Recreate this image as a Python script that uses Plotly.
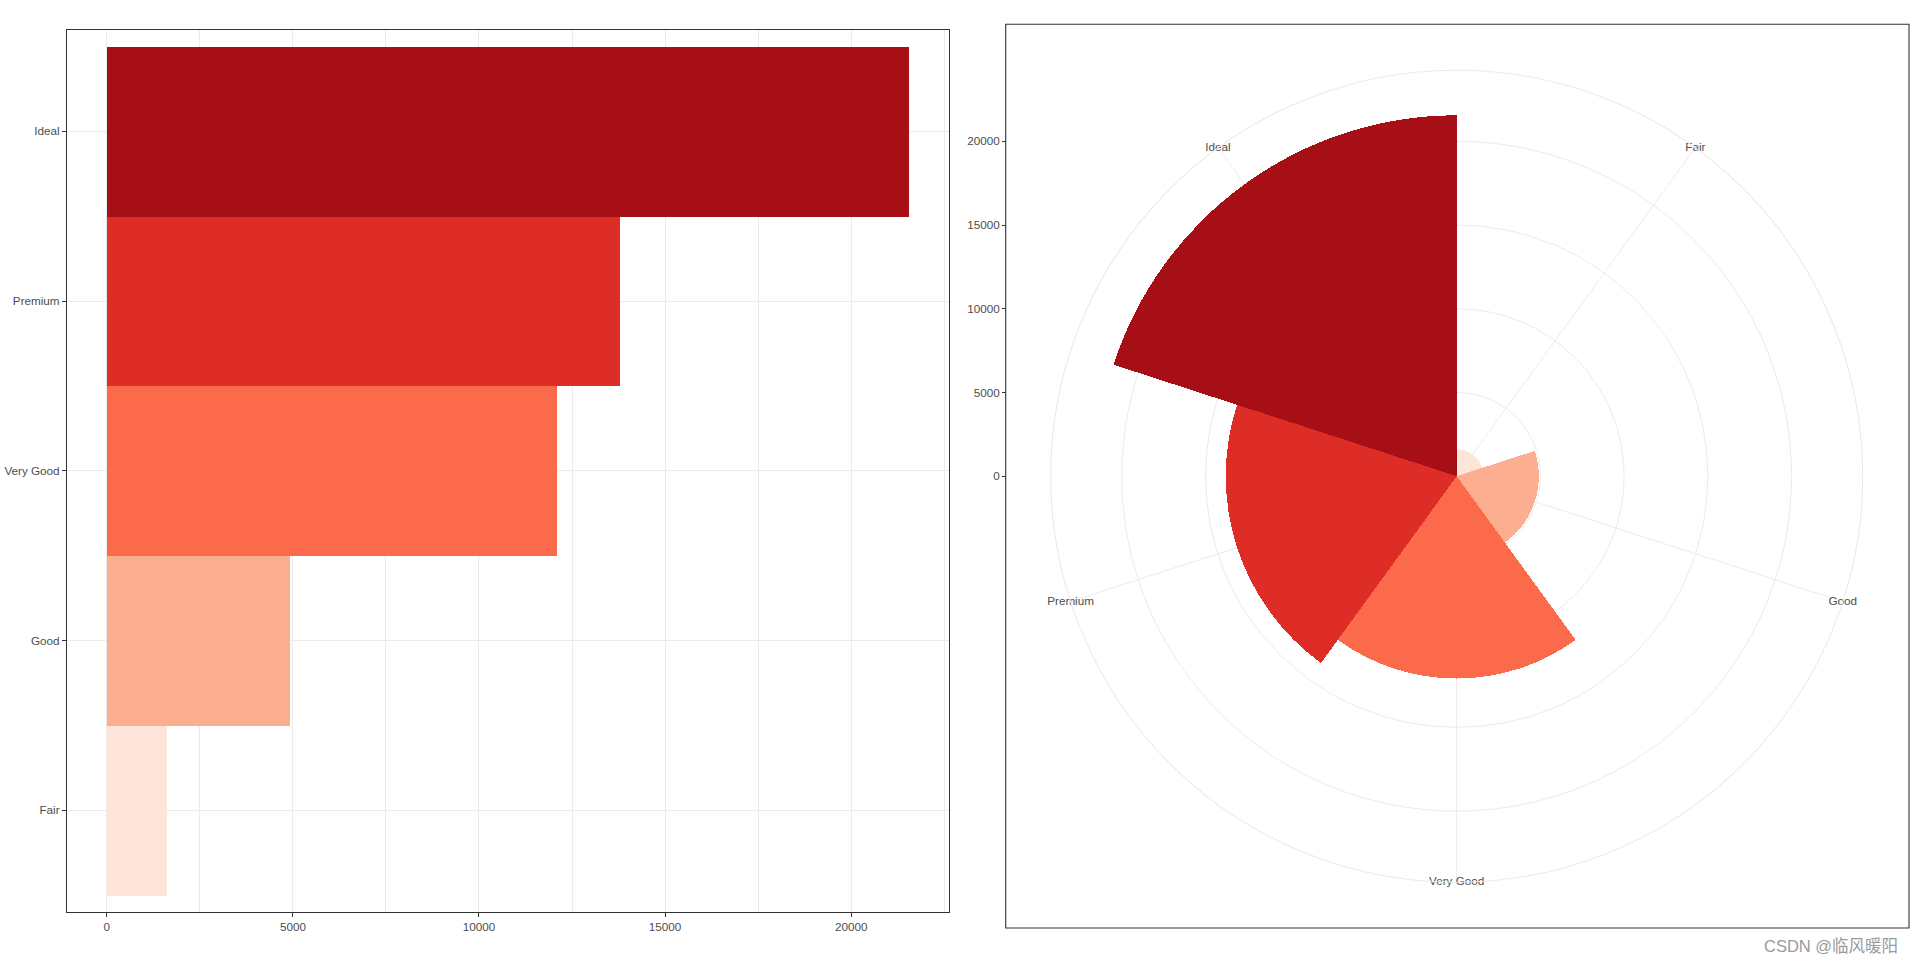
import plotly.graph_objects as go

# ---- data ----
cuts = ["Fair", "Good", "Very Good", "Premium", "Ideal"]
counts = [1610, 4906, 12082, 13791, 21551]
colors = ["#FEE5D9", "#FCAE91", "#FB6A4A", "#DE2D26", "#A50F15"]
x_ticks = [0, 5000, 10000, 15000, 20000]
r_ticks = [0, 5000, 10000, 15000, 20000]

W, H = 1915, 964
def fx(px): return px / W
def fy(py): return 1 - py / H

FONT = "Liberation Sans, Arial, sans-serif"
TXT = "#4d4d4d"
GRID = "#ebebeb"
DARK = "#333333"

rmax = max(counts)
r_outer = rmax * 0.45 / 0.4          # ggplot coord_polar outer ring
x_pad = 0.05 * rmax

fig = go.Figure()

# left: horizontal bars
fig.add_trace(go.Bar(
    x=counts, y=cuts, orientation="h",
    marker=dict(color=colors, line=dict(width=0)),
    width=1.0, showlegend=False, hoverinfo="x+y",
    xaxis="x", yaxis="y"))

# right: polar bars
fig.add_trace(go.Barpolar(
    r=counts, theta=cuts,
    marker=dict(color=colors, line=dict(width=0)),
    showlegend=False, subplot="polar"))

# theta labels placed on the outer ring
fig.add_trace(go.Scatterpolar(
    r=[r_outer] * len(cuts), theta=cuts, mode="text", text=cuts,
    textposition="middle center",
    textfont=dict(family=FONT, size=11.7, color=TXT),
    cliponaxis=False, showlegend=False, hoverinfo="skip", subplot="polar"))

# invisible trace carrying the radial axis labels at the panel's left
fig.add_trace(go.Scatter(
    x=[0] * len(counts), y=counts, mode="markers",
    marker=dict(opacity=0), showlegend=False, hoverinfo="skip",
    xaxis="x2", yaxis="y2"))

# geometry of panels (pixels)
L_x0, L_x1, L_y0, L_y1 = 66.7, 949.0, 29.5, 912.0
R_x0, R_x1, R_y0, R_y1 = 1005.7, 1909.0, 24.3, 928.0
cx, cy, rad = 1456.7, 476.2, 406.0

fig.update_layout(
    width=W, height=H,
    margin=dict(l=0, r=0, t=0, b=0),
    paper_bgcolor="white", plot_bgcolor="white",
    bargap=0,
    font=dict(family=FONT, size=11.7, color=TXT),
    xaxis=dict(
        domain=[fx(L_x0), fx(L_x1)],
        range=[-x_pad, rmax + x_pad],
        tickvals=x_ticks, tickformat="d", ticks="outside", ticklen=3.7, tickwidth=1.1,
        tickcolor=DARK, showgrid=True, gridcolor=GRID, gridwidth=1.1,
        minor=dict(dtick=2500, tick0=0, showgrid=True, gridcolor=GRID, gridwidth=0.6),
        zeroline=False, showline=True, linecolor=DARK, linewidth=1.1, mirror=True,
        tickfont=dict(family=FONT, size=11.7, color=TXT), anchor="y",
        fixedrange=True),
    yaxis=dict(
        domain=[fy(L_y1), fy(L_y0)],
        type="category", categoryorder="array", categoryarray=cuts,
        range=[-0.6, len(cuts) - 0.4],
        ticks="outside", ticklen=3.7, tickwidth=1.1, tickcolor=DARK,
        showgrid=True, gridcolor=GRID, gridwidth=1.1,
        zeroline=False, showline=True, linecolor=DARK, linewidth=1.1, mirror=True,
        tickfont=dict(family=FONT, size=11.7, color=TXT), anchor="x",
        fixedrange=True),
    xaxis2=dict(domain=[fx(R_x0), fx(R_x1)], visible=False, range=[0, 1],
                anchor="y2", fixedrange=True),
    yaxis2=dict(
        domain=[fy(cy + rad), fy(cy - rad)],
        range=[-r_outer, r_outer], tickvals=r_ticks, tickformat="d",
        ticks="outside", ticklen=3.7, tickwidth=1.1, tickcolor=DARK,
        showgrid=False, zeroline=False, showline=False,
        anchor="free", position=fx(R_x0), side="left",
        tickfont=dict(family=FONT, size=11.7, color=TXT), fixedrange=True),
    polar=dict(
        domain=dict(x=[fx(cx - rad), fx(cx + rad)], y=[fy(cy + rad), fy(cy - rad)]),
        bgcolor="rgba(0,0,0,0)",
        bargap=0,
        angularaxis=dict(
            type="category", categoryorder="array", categoryarray=cuts,
            rotation=54, direction="clockwise",
            showticklabels=False, ticks="",
            showgrid=True, gridcolor=GRID, gridwidth=1.1,
            showline=True, linecolor=GRID, linewidth=1.1),
        radialaxis=dict(
            range=[0, r_outer], tickvals=r_ticks,
            showticklabels=False, ticks="",
            showgrid=True, gridcolor=GRID, gridwidth=1.1,
            showline=False)),
    shapes=[dict(type="rect", xref="paper", yref="paper",
                 x0=fx(R_x0), x1=fx(R_x1), y0=fy(R_y1), y1=fy(R_y0),
                 line=dict(color=DARK, width=1.1), layer="above")],
    annotations=[dict(text="CSDN @临风暖阳", xref="paper", yref="paper",
                      x=fx(1900), y=fy(946), xanchor="right", yanchor="middle",
                      showarrow=False,
                      font=dict(family="Liberation Sans, Noto Sans CJK SC", size=16.5,
                                color="#9a9a9a"))],
)

fig.write_html("out.html")
